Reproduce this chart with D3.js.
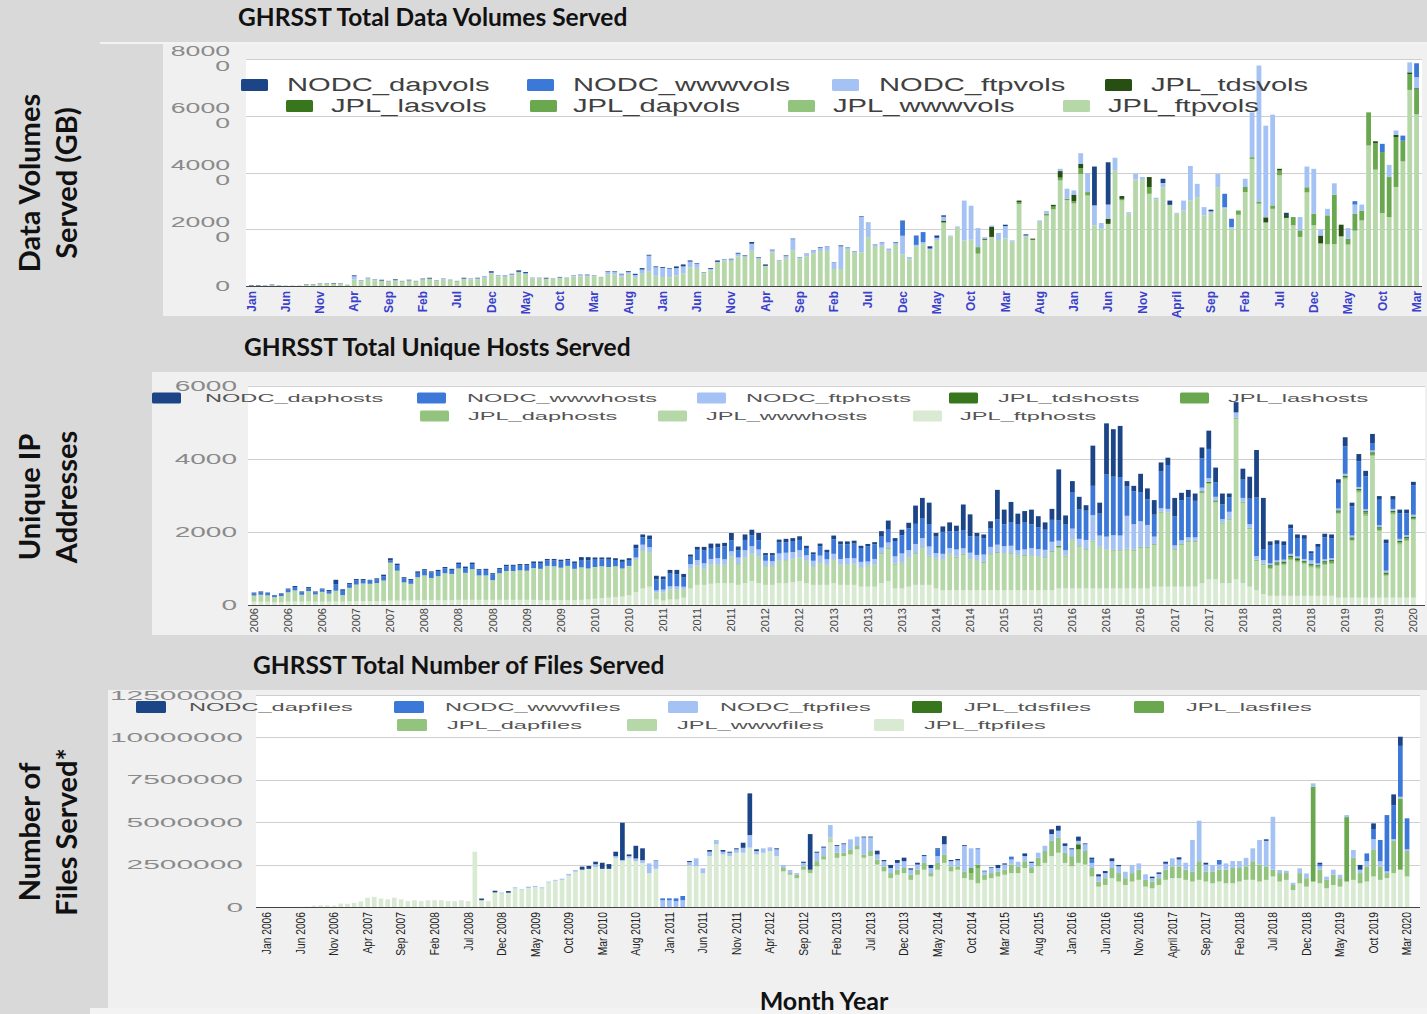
<!DOCTYPE html>
<html>
<head>
<meta charset="utf-8">
<script src="https://cdn.jsdelivr.net/npm/d3@7"></script>
<style>
  html, body { margin: 0; padding: 0; background: #d9d9d9; }
  svg { display: block; }
</style>
</head>
<body>
<svg id="fig" width="1427" height="1014"></svg>
<script>
// Monthly data Jan 2006 .. Mar 2020 (171 months)

// ---- Data volumes (thousand GB) ----
const volNodcDap = [
  .2,.2,.1,.2,.1,.05,.05,.05,.1,.1,
  .1,.1,.2,.1,.05,.3,.1,.1,.1,.3,
  .1,.3,.1,.2,.1,.2,.3,.1,.1,.1,
  .1,.3,.1,.2,.1,.5,.1,.1,.2,.5,
  .4,.1,.1,.3,.1,.2,.1,.1,.1,.2,
  .1,.05,.2,.2,.2,.3,.4,.5,.3,.3,
  .3,.2,.6,.7,.4,.2,.1,.3,.5,.1,
  .2,.3,.2,.6,.2,.5,.2,.1,.2,.2,
  .1,.1,.1,.2,.1,.1,.3,.1,.1,.2,
  .1,.1,.1,.1,.2,.1,.1,.1,0,.8,
  .8,.5,0,0,0,0,0,0,0,0,
  .5,0,0,.4,0,0,0,0,0,0,
  0,0,0,13.7,0,14.9,0,0,0,0,
  0,0,0,1.5,1.5,0,0,0,0,0,
  .6,0,0,0,0,0,0,0,0,0,
  0,.8,0,0,0,0,0,0,0,0,
  0,0,0,0,0,0,0,0,0,0,0];
const volNodcWww = [
  0,0,0,0,0,0,0,0,0,0, 0,0,0,0,0,0,0,0,0,0,
  0,0,0,0,0,0,0,0,0,0, 0,0,0,0,0,0,0,0,0,0,
  0,0,0,0,0,0,0,0,0,0, 0,0,0,0,0,0,0,0,0,0,
  0,0,0,0,0,0,0,0,0,0, 0,0,0,0,0,0,0,0,0,0,
  0,0,0,0,0,0,0,0,0,0,
  0,0,0,0,0,5.3,0,3.2,3.5,0,
  0,0,0,0,0,0,0,0,0,0, 0,0,0,0,0,0,0,0,0,0,
  0,0,0,0,0,0,0,0,0,0, 0,0,0,0,0,0,0,0,0,0,
  0,0,4.7,2.9,0,0,0,0,0,0,
  0,0,0,0,0,0,0,0,0,0,
  0,1.2,0,0,0,2.9,0,0,1.8,0,4.9];
const volNodcFtp = [
  0,0,0,0,0,0,0,0,.1,.1,
  .1,.1,.1,.1,0,1.2,.3,.3,.2,.1,
  .1,.2,0,.2,0,.2,.1,0,.3,0,
  0,.2,.2,.3,.4,.3,.3,.5,.4,.4,
  .3,.2,.1,.1,0,.2,0,.3,.5,.4,
  .2,0,1.0,.9,.8,.6,.8,1.5,5.5,3.0,
  3.2,3.0,2.6,2.5,2.0,1.5,.3,.5,.3,.4,
  .6,1.0,.4,2.5,.5,.2,.8,.3,.8,4.0,
  .5,.8,1.0,1.2,1.5,2.3,8.0,.6,.5,12.5,
  5.0,.8,1.2,.6,.8,6.5,.5,.5,.8,.4,
  .8,1.5,.3,.5,14.1,12.0,6.7,.5,.5,2.5,
  4.3,.5,0,.4,0,.5,1.0,0,.8,3.5,
  1.5,3.8,6.7,7.0,2.0,5.0,4.5,0,.5,2.0,
  1.0,0,.5,1.5,0,.3,3.5,12.2,4.7,2.9,
  .5,4.7,.5,.5,0,2.9,15.8,48.1,32.3,32.0,
  0,0,0,4.7,7.3,15.8,2.1,2.3,4.0,0,
  3.8,3.3,2.1,0,0,0,4.3,1.5,0,3.5,3.9];
const volJplTds = [
  0,0,0,0,0,0,0,0,0,0, 0,0,0,0,0,0,0,0,0,0,
  0,0,0,0,0,0,0,0,0,0, 0,0,0,0,0,0,0,0,0,0,
  0,0,0,0,0,0,0,0,0,0, 0,0,0,0,0,0,0,0,0,0,
  0,0,0,0,0,0,0,0,0,0, 0,0,0,0,0,0,0,0,0,0,
  0,0,0,0,0,0,0,0,0,0, 0,0,0,0,0,0,0,0,0,0,
  0,.5,0,0,0,0,0,.4,3.5,0,
  0,0,.6,0,.4,0,0,.6,2.3,0,
  2.3,1.5,0,0,0,1.8,0,1.0,0,0,
  0,3.5,0,0,0,0,0,0,0,0,
  0,0,0,0,0,0,0,0,1.8,0,
  .6,1.0,0,0,0,0,2.8,0,0,4.1,
  0,0,0,0,.6,0,0,.8,0,.6,.4];
const volJplLas = [
  0,0,0,0,0,0,0,0,0,0, 0,0,0,0,0,0,0,0,0,0,
  0,0,0,0,0,0,0,0,0,0, 0,0,0,0,0,0,0,0,0,0,
  0,0,0,0,0,0,0,0,0,0, 0,0,0,0,0,0,0,0,0,0,
  0,0,0,0,0,0,0,0,0,0, 0,0,0,0,0,0,0,0,0,0,
  0,0,0,0,0,0,0,0,0,0, 0,0,0,0,0,0,0,0,0,0,
  0,0,0,0,0,0,0,0,0,0, 0,0,0,0,0,0,0,0,0,0,
  0,0,0,0,0,0,0,0,0,0, 0,0,0,0,0,0,0,0,0,0,
  0,0,0,0,0,0,0,0,0,0, 0,0,0,0,0,0,0,0,0,0,
  0,0,0,0,0,0,0,0,0,0,0];
const volJplDap = [
  0,0,0,0,0,0,0,0,0,0, 0,0,0,0,0,0,0,0,0,0,
  0,0,0,0,0,0,0,0,0,0, 0,0,0,0,0,0,0,0,0,0,
  0,0,0,0,0,0,0,0,0,0, 0,0,0,0,0,0,0,0,0,0,
  0,0,0,0,0,0,0,0,0,0, 0,0,0,0,0,0,0,0,0,0,
  0,0,0,0,0,0,0,0,0,0, 0,0,0,0,0,0,0,0,0,0,
  0,0,0,0,0,0,2.3,0,0,0,
  0,0,.6,0,0,0,.6,1.0,1.0,.5,
  .8,2.0,1.2,0,0,0,0,.5,0,0,
  0,2.4,0,0,0,0,0,0,0,0,
  0,0,0,0,1.5,1.8,.6,.6,0,1.2,
  1.7,0,2.9,2.3,1.8,4.1,0,10.2,17.4,0,
  2.0,5.9,3.5,11.7,9.4,21.5,14.1,17.6,7.3,5.6,8.8];
const volJplWww = [
  0,0,0,0,0,0,0,0,0,0, 0,0,0,0,0,0,0,0,0,0,
  0,0,0,0,0,0,0,0,0,0, 0,0,0,0,0,0,0,0,0,0,
  0,0,0,0,0,0,0,0,0,0, 0,0,0,0,0,0,0,0,0,0,
  0,0,0,0,0,0,0,0,0,0, 0,0,0,0,0,0,0,0,0,0,
  0,0,0,0,0,0,0,0,0,0, 0,0,0,0,0,0,0,0,0,0,
  0,0,0,0,0,0,0,0,0,0, 0,0,0,0,0,0,0,0,0,0,
  0,0,0,0,0,0,0,0,0,0, 0,0,0,0,0,0,0,0,0,0,
  0,0,0,0,0,0,0,0,0,0, 0,0,0,0,0,0,0,0,0,0,
  0,0,0,0,0,0,0,0,0,0,0];
const volJplFtp = [
  .1,.1,.1,.3,.1,.05,.05,.05,.5,.5,
  .7,.7,.7,.8,.35,2.25,1.6,2.5,2.05,1.8,
  1.6,1.85,1.7,1.8,1.7,2.2,2.5,1.9,2.2,2.1,
  1.7,2.4,2.3,2.4,2.9,4.4,3.35,3.15,3.7,4.6,
  4.2,2.6,2.7,2.5,2.5,2.8,2.8,3.35,3.4,3.4,
  3.45,3.15,4.0,4.1,3.3,4.3,3.1,4.3,5.2,3.6,
  3.2,3.1,3.7,4.4,6.6,6.4,4.5,5.5,8.2,9.0,
  8.8,10.4,10.2,12.4,9.5,6.9,11.8,8.6,9.8,12.5,
  9.6,10.5,11.5,12.3,12.4,6.0,6.0,13.0,11.7,11.9,
  17.2,13.8,14.2,12.4,14.5,11.2,9.4,14.0,14.7,12.8,
  16.2,22.4,17.5,20.5,16.0,16.3,11.4,16.3,17.3,16.2,
  16.8,15.6,28.9,17.4,16.3,22.6,24.8,27.0,37.2,30.3,
  29.1,39.5,31.9,21.4,20.2,21.9,40.7,30.2,25.5,37.5,
  37.4,32.5,30.6,34.8,28.6,25.5,26.6,30.1,31.3,24.9,
  25.8,34.8,27.3,20.3,25.1,33.1,44.8,29.0,22.4,27.2,
  39.0,24.0,21.4,17.3,33.0,21.4,15.0,14.7,14.8,17.5,
  14.6,19.5,23.1,49.5,41.0,25.7,24.3,34.9,43.9,69.1,60.5];

// ---- Unique hosts ----
const hostNodcDap = [
  20,20,15,10,15,20,30,20,30,20,
  20,30,120,40,30,40,30,20,30,40,
  60,40,30,30,40,30,30,30,40,30,
  40,40,40,30,30,30,30,40,30,30,
  30,40,40,40,40,50,40,40,80,90,
  60,50,60,50,60,50,100,80,100,100,
  80,100,120,100,60,80,100,120,100,100,
  200,100,150,150,200,60,60,80,100,80,
  100,60,50,80,60,100,80,80,80,60,
  60,60,150,250,80,150,150,500,550,600,
  100,150,250,150,700,600,100,100,200,800,
  400,550,300,300,400,300,200,300,1400,250,
  300,350,150,1100,300,1400,1300,1400,150,150,
  500,300,400,250,200,500,200,200,200,300,
  500,400,300,100,280,300,600,1300,1400,100,
  100,100,100,100,100,50,80,100,100,100,
  250,100,200,150,250,100,100,100,100,100,100];
const hostNodcWww = [
  60,70,60,50,60,80,90,70,80,60,
  70,70,180,120,100,110,90,90,100,120,
  60,150,110,100,120,140,150,140,130,110,
  120,130,140,140,150,160,110,130,140,140,
  150,140,160,150,160,170,150,160,200,220,
  200,190,200,170,180,160,250,200,220,300,
  280,350,330,250,200,280,350,300,300,350,
  300,200,280,300,250,150,160,300,280,300,
  280,200,180,250,200,400,400,380,400,380,
  420,400,300,350,420,500,600,550,550,600,
  450,600,450,500,500,450,500,450,500,700,
  600,650,700,750,650,600,550,600,550,700,
  1000,800,800,800,600,1700,1600,1600,800,900,
  800,700,600,1000,1200,800,1100,1100,1000,800,
  800,400,400,400,0,500,700,1600,300,500,
  450,400,700,500,550,200,450,600,550,700,
  750,800,700,900,200,700,750,250,700,600,800];
const hostNodcFtp = [
  0,0,0,0,0,0,0,0,0,0, 0,0,0,0,0,0,0,0,0,0,
  0,0,0,0,0,0,0,0,0,0, 0,0,0,0,0,0,0,0,0,0,
  0,0,0,0,0,0,0,0,0,0,
  0,0,0,0,0,0,50,150,150,50,
  80,80,90,60,120,150,150,150,180,150,
  150,180,200,200,200,150,130,200,200,180,
  200,150,150,180,150,150,150,180,150,150,
  120,150,150,150,200,250,200,250,250,250,
  150,150,150,200,150,150,150,200,200,200,
  200,200,150,150,200,200,200,250,150,150,
  300,200,250,700,300,350,400,400,900,700,
  700,600,200,100,100,100,100,100,100,100,
  100,100,100,200,150,100,100,100,100,50,
  50,50,50,50,50,100,50,50,50,50,
  50,50,50,50,50,50,50,50,50,50,50];
const hostJplTds = [
  0,0,0,0,0,0,0,0,0,0, 0,0,0,0,0,0,0,0,0,0,
  0,0,0,0,0,0,0,0,0,0, 0,0,0,0,0,0,0,0,0,0,
  0,0,0,0,0,0,0,0,0,0, 0,0,0,0,0,0,0,0,0,0,
  0,0,0,0,0,0,0,0,0,0, 0,0,0,0,0,0,0,0,0,0,
  0,0,0,0,0,0,0,0,0,0, 0,0,0,0,0,0,0,0,0,0,
  0,0,0,0,0,0,0,0,0,0,
  0,0,0,0,0,0,0,0,30,0,
  0,0,0,0,0,0,0,0,0,0,
  0,0,0,0,0,0,0,0,0,30,
  30,30,0,0,0,0,0,0,0,40,
  40,40,50,50,30,30,30,40,40,40,
  40,40,40,40,40,40,40,40,40,40,40];
const hostJplLas = [
  0,0,0,0,0,0,0,0,0,0, 0,0,0,0,0,0,0,0,0,0,
  0,0,0,0,0,0,0,0,0,0, 0,0,0,0,0,0,0,0,0,0,
  0,0,0,0,0,0,0,0,0,0, 0,0,0,0,0,0,0,0,0,0,
  0,0,0,0,0,0,0,0,0,0, 0,0,0,0,0,0,0,0,0,0,
  0,0,0,0,0,0,0,0,0,0, 0,0,0,0,0,0,0,0,0,0,
  0,0,0,0,0,0,0,0,0,0, 0,0,0,0,0,0,0,0,0,0,
  0,0,0,0,0,0,0,0,0,0, 0,0,0,0,0,0,0,0,0,0,
  0,0,0,0,0,0,0,0,0,40,
  40,40,40,40,40,40,40,40,40,40,
  40,40,40,40,40,40,40,40,40,40,40];
const hostJplDap = [
  10,10,10,10,10,10,10,10,10,10,
  10,10,10,10,10,10,10,10,10,10,
  20,20,10,10,10,10,10,10,10,10,
  10,10,10,10,10,10,10,10,10,10,
  10,10,10,10,10,10,10,10,10,10,
  10,10,10,10,10,10,20,20,20,10,
  10,10,10,10,20,20,20,20,20,20,
  20,20,20,20,20,20,20,20,20,20,
  20,20,20,20,20,20,20,20,20,20,
  20,20,30,30,30,30,30,30,30,30,
  30,30,30,30,30,30,30,30,30,30,
  30,30,30,30,30,30,30,30,30,30,
  30,30,30,30,30,30,30,30,30,30,
  30,30,30,30,30,30,30,30,30,30,
  30,30,30,30,40,40,40,40,40,30,
  30,30,30,30,30,30,30,30,30,30,
  30,30,30,60,30,30,30,30,30,30,30];
const hostJplWww = [
  160,180,165,125,155,250,290,180,270,190,
  260,210,280,170,360,440,470,460,480,550,
  1020,800,490,450,620,670,600,650,730,710,
  850,730,830,660,660,530,720,780,780,800,
  790,860,850,930,920,880,930,850,880,840,
  860,860,830,830,760,800,880,1030,910,190,
  210,270,260,230,530,510,420,510,480,480,
  700,550,680,740,700,490,500,590,610,630,
  630,590,490,600,530,630,540,530,560,510,
  550,590,790,880,650,680,770,840,1000,770,
  790,820,980,890,970,850,790,750,960,1020,
  980,990,920,940,930,900,880,1050,1100,870,
  1310,1130,1050,1280,1120,1040,1030,1020,1060,1030,
  1110,1110,1140,2020,2000,1000,1140,1220,1220,2450,
  2610,2100,1620,1720,4380,2190,1570,800,790,730,
  810,830,980,910,860,770,740,840,870,2280,
  3230,1540,2870,2230,3870,1820,580,2270,1450,1550,2110];
const hostJplFtp = [
  90,90,90,80,80,90,100,90,100,90,
  90,90,100,90,100,110,110,110,110,110,
  120,120,120,120,130,130,130,130,130,130,
  140,140,140,140,140,140,140,140,140,140,
  140,140,130,130,130,130,130,130,140,150,
  170,190,200,220,230,260,350,450,500,150,
  120,150,150,200,450,550,550,580,600,600,
  600,550,600,650,600,550,550,600,600,620,
  650,600,550,550,550,600,550,550,550,500,
  500,500,600,650,450,450,500,550,550,550,
  450,400,400,400,400,400,400,400,400,400,
  400,400,400,400,400,400,400,400,450,450,
  450,450,450,450,450,450,450,450,450,450,
  450,450,500,500,500,500,500,500,500,600,
  700,700,600,600,700,600,500,400,300,250,
  250,250,250,250,250,250,250,250,250,200,
  200,200,200,200,200,200,200,200,200,200,200];

// ---- Files served (millions) ----
const fileNodcDap = [
  0,0,0,0,0,0,0,0,0,0, 0,0,0,0,0,0,0,0,0,0,
  0,0,0,0,0,0,0,0,0,0,
  0,0,.1,0,.1,0,.1,0,0,0,
  0,0,0,0,0,0,0,.18,.17,.15,
  .36,.28,.26,2.2,.1,.75,.7,0,.02,0,
  0,0,0,.06,0,0,.1,0,.1,.06,
  .06,.3,2.46,.1,0,0,.06,0,0,0,
  .07,2.1,.06,.06,0,.05,.05,0,0,.05,
  .05,.22,.07,.18,.17,.21,.08,.11,.06,.18,
  .06,.48,.07,.08,.05,0,0,.04,.04,.18,
  .07,0,0,.16,.07,0,0,.28,.29,.15,
  .06,.25,.05,.11,.13,.12,.17,.08,0,0,
  0,0,.09,.09,.12,0,.13,0,0,0,
  .11,0,0,0,0,0,0,0,0,.09,
  0,0,0,0,0,0,0,.11,0,0,
  0,0,0,.28,0,.33,0,0,.64,.54,0];
const fileNodcWww = [
  0,0,0,0,0,0,0,0,0,0, 0,0,0,0,0,0,0,0,0,0,
  0,0,0,0,0,0,0,0,0,0, 0,0,0,0,0,0,0,0,0,0,
  0,0,0,0,0,0,0,0,0,0,
  0,0,0,0,0,0,0,0,0,.11,
  .11,.16,.25,0,0,0,0,0,0,0,
  0,0,0,0,0,0,0,0,0,0, 0,0,0,0,0,0,0,0,0,0,
  0,0,0,0,0,0,0,0,0,0,
  .4,0,0,0,0,0,.06,0,0,0,
  0,.17,0,0,0,0,0,0,0,0,
  0,0,0,.2,0,0,0,0,0,0,
  0,0,0,0,0,0,0,0,0,0,
  0,0,.27,0,0,0,0,0,0,0,
  0,0,0,0,0,0,0,.1,0,0,
  0,0,0,0,.46,.6,1.25,3.32,2.0,3.0,1.83];
const fileNodcFtp = [
  0,0,0,0,0,0,0,0,0,0, 0,0,0,0,0,0,0,0,0,0,
  0,0,0,0,0,0,0,0,0,0,
  0,0,0,0,0,.05,0,.06,.04,.08,
  .06,.06,.05,.05,.07,.1,.1,0,0,.17,
  0,0,.1,.07,.1,.16,.16,.57,.5,.4,
  .4,.35,.4,.2,.47,.28,.26,.25,.16,.2,
  .2,.29,.74,.2,.26,.22,.4,.18,.18,.1,
  .2,0,.5,.5,.73,.4,.5,.59,.55,1.0,
  .8,.3,.3,.3,.4,.4,.3,.3,.4,.3,
  .4,.6,.3,.35,1.5,1.16,.9,.2,.3,.2,
  .3,.3,.27,.3,.3,.3,.31,.4,.4,.4,
  .4,.2,.4,.3,.3,.3,.4,.4,.38,.48,
  .37,.33,.2,.25,.35,.47,.4,.41,1.85,2.39,
  .4,.38,.3,.37,.41,.41,.5,.76,1.45,1.5,
  3.12,.18,.14,.13,.28,.28,.19,.2,.19,.3,
  .2,.12,.46,.2,.3,.6,.3,.1,.1,.1,.1];
const fileJplTds = [
  0,0,0,0,0,0,0,0,0,0, 0,0,0,0,0,0,0,0,0,0,
  0,0,0,0,0,0,0,0,0,0, 0,0,0,0,0,0,0,0,0,0,
  0,0,0,0,0,0,0,0,0,0, 0,0,0,0,0,0,0,0,0,0,
  0,0,0,0,0,0,0,0,0,0, 0,0,0,0,0,0,0,0,0,0,
  0,0,0,0,0,0,0,0,0,0, 0,0,0,0,0,0,0,0,0,0,
  0,0,0,0,0,0,0,0,0,0, 0,0,0,0,0,0,0,0,0,0,
  0,.3,0,0,0,0,0,0,0,0,
  0,0,0,0,0,0,0,0,0,0, 0,0,0,0,0,0,0,0,0,0,
  0,0,0,0,0,0,0,0,0,0,
  0,0,0,0,0,0,0,0,0,0,0];
const fileJplLas = [
  0,0,0,0,0,0,0,0,0,0, 0,0,0,0,0,0,0,0,0,0,
  0,0,0,0,0,0,0,0,0,0, 0,0,0,0,0,0,0,0,0,0,
  0,0,0,0,0,0,0,0,0,0, 0,0,0,0,0,0,0,0,0,0,
  0,0,0,0,0,0,0,0,0,0, 0,0,0,0,0,0,0,0,0,0,
  0,0,0,0,0,0,0,0,0,0, 0,0,0,0,0,0,0,0,0,0,
  0,0,0,0,0,.3,.2,0,0,0,
  0,0,0,0,0,0,0,0,0,0, 0,0,0,0,0,0,0,0,0,0,
  0,0,0,0,0,0,0,0,0,0, 0,0,0,0,0,0,0,0,0,0,
  0,0,0,0,0,0,5.6,0,0,0,
  0,3.8,0,0,0,0,0,0,0,4.2,0];
const fileJplDap = [
  0,0,0,0,0,0,0,0,0,0, 0,0,0,0,0,0,0,0,0,0,
  0,0,0,0,0,0,0,0,0,0, 0,0,0,0,0,0,0,0,0,0,
  0,0,0,0,0,0,0,0,0,0, 0,0,0,0,0,0,0,0,0,0,
  0,0,0,0,0,0,0,0,0,0,
  0,0,0,0,0,0,0,.2,.1,.2,
  .2,.2,.3,.2,0,.3,.2,.3,.2,.2,
  .3,.3,.3,.3,.3,.3,.3,.3,.4,.2,
  .4,.5,.3,.2,.4,.4,.9,.3,.3,.3,
  .3,.5,.4,.4,.3,.5,.7,.9,.9,.6,
  .6,.8,.8,.5,.3,.4,.6,.5,.4,.5,
  .6,.4,.4,.4,.6,.7,.7,.6,.6,1.1,
  .6,.7,.7,.8,.9,.8,.8,1.1,1.0,.8,
  .4,.5,.4,.3,.6,.5,0,.8,.5,.6,
  .5,0,1.3,.6,.9,1.6,.8,.3,1.9,0,1.5];
const fileJplWww = [
  0,0,0,0,0,0,0,0,0,0, 0,0,0,0,0,0,0,0,0,0,
  0,0,0,0,0,0,0,0,0,0, 0,0,0,0,0,0,0,0,0,0,
  0,0,0,0,0,0,0,0,0,0, 0,0,0,0,0,0,0,0,0,0,
  0,0,0,0,0,0,0,0,0,0, 0,0,0,0,0,0,0,0,0,0,
  0,0,0,0,.3,0,0,0,0,0,
  0,0,0,0,0,0,0,0,0,0, 0,0,0,0,0,0,0,0,0,0,
  0,0,0,0,0,0,0,0,0,0, 0,0,0,0,0,0,0,0,0,0,
  0,0,0,0,0,0,0,0,0,0, 0,0,0,0,0,0,0,0,0,0,
  0,0,0,0,0,0,0,0,0,0,
  0,0,0,0,0,0,0,0,0,0,0];
const fileJplFtp = [
  0,0,0,0,0,.01,.02,.08,.1,.1,
  .08,.2,.19,.25,.33,.55,.6,.5,.45,.55,
  .45,.35,.4,.35,.4,.4,.4,.35,.35,.4,
  .35,3.26,.4,.35,.86,.8,.84,1.1,1.0,1.12,
  1.18,1.1,1.45,1.55,1.6,1.85,2.08,2.2,2.25,2.35,
  2.25,2.25,2.9,2.7,2.9,2.7,2.6,2.0,2.25,0,
  0,0,0,2.45,2.4,2.0,3.0,3.7,3.1,3.0,
  3.2,3.2,3.5,3.1,3.2,3.3,3.0,2.1,1.9,1.7,
  2.2,2.0,2.4,2.8,3.8,2.9,3.0,3.1,3.4,2.9,
  3.0,2.5,2.1,1.7,1.9,2.0,1.6,1.9,2.2,1.8,
  2.2,2.6,2.1,2.2,1.7,1.6,1.4,1.6,1.7,1.8,
  1.9,2.0,2.0,2.3,2.0,2.4,2.6,3.0,3.2,2.6,
  2.4,2.6,2.5,1.8,1.2,1.3,1.7,1.5,1.3,1.5,
  1.6,1.2,1.1,1.3,1.6,1.7,1.7,1.6,1.5,1.6,
  1.5,1.4,1.5,1.4,1.4,1.5,1.6,1.6,1.5,1.6,
  1.8,1.5,1.6,1.0,1.4,1.2,1.5,1.4,1.1,1.3,
  1.2,1.5,1.6,1.4,1.5,1.8,1.6,1.7,2.0,2.2,1.8];

// ---- Labels ----
const volTickLabels = ["Jan","Jun","Nov","Apr","Sep","Feb","Jul","Dec","May","Oct","Mar","Aug",
  "Jan","Jun","Nov","Apr","Sep","Feb","Jul","Dec","May","Oct","Mar","Aug",
  "Jan","Jun","Nov","April","Sep","Feb","Jul","Dec","May","Oct","Mar"];
const hostTickLabels = ["2006","2006","2006","2007","2007","2008","2008","2008","2009","2009",
  "2010","2010","2011","2011","2011","2012","2012","2013","2013","2013","2014","2014",
  "2015","2015","2016","2016","2016","2017","2017","2018","2018","2018","2019","2019","2020"];
const fileTickLabels = ["Jan 2006","Jun 2006","Nov 2006","Apr 2007","Sep 2007","Feb 2008",
  "Jul 2008","Dec 2008","May 2009","Oct 2009","Mar 2010","Aug 2010","Jan 2011","Jun 2011",
  "Nov 2011","Apr 2012","Sep 2012","Feb 2013","Jul 2013","Dec 2013","May 2014","Oct 2014",
  "Mar 2015","Aug 2015","Jan 2016","Jun 2016","Nov 2016","April 2017","Sep 2017","Feb 2018",
  "Jul 2018","Dec 2018","May 2019","Oct 2019","Mar 2020"];

const volNames  = ["NODC_dapvols","NODC_wwwvols","NODC_ftpvols","JPL_tdsvols","JPL_lasvols","JPL_dapvols","JPL_wwwvols","JPL_ftpvols"];
const hostNames = ["NODC_daphosts","NODC_wwwhosts","NODC_ftphosts","JPL_tdshosts","JPL_lashosts","JPL_daphosts","JPL_wwwhosts","JPL_ftphosts"];
const fileNames = ["NODC_dapfiles","NODC_wwwfiles","NODC_ftpfiles","JPL_tdsfiles","JPL_lasfiles","JPL_dapfiles","JPL_wwwfiles","JPL_ftpfiles"];

// ---- Drawing ----
const SERIES = ["NODC_dap","NODC_www","NODC_ftp","JPL_tds","JPL_las","JPL_dap","JPL_www","JPL_ftp"];
const STACK_ORDER = SERIES.slice().reverse();
const FONT = "'Liberation Sans', Arial, sans-serif";
const TITLE_FONT = "Lato, 'Open Sans', sans-serif";

const monthKeys = [];
for (let i = 0; i < 171; i++) {
  const yr = 2006 + Math.floor(i / 12), mo = i % 12 + 1;
  monthKeys.push(yr + "-" + String(mo).padStart(2, "0"));
}
const tickMonths = monthKeys.filter((m, i) => i % 5 === 0);

const paletteVol = {NODC_dap:"#1c4587", NODC_www:"#3c78d8", NODC_ftp:"#a4c2f4", JPL_tds:"#274e13",
  JPL_las:"#38761d", JPL_dap:"#6aa84f", JPL_www:"#93c47d", JPL_ftp:"#b6d7a8"};
const paletteHost = {NODC_dap:"#1c4587", NODC_www:"#3c78d8", NODC_ftp:"#a4c2f4", JPL_tds:"#38761d",
  JPL_las:"#6aa84f", JPL_dap:"#93c47d", JPL_www:"#b6d7a8", JPL_ftp:"#d9ead3"};

const charts = [
  {
    title: "GHRSST Total Data Volumes Served", titlePos: [238, 26],
    side: ["Data Volumes", "Served (GB)"], sideY: 183,
    panel: [163, 44, 1264, 272], plot: {l: 246, r: 1422, t: 59, b: 286}, band: [248, 1420],
    yMax: 80, yTicks: [0, 20, 40, 60, 80], unit: 1000, wrap: 4,
    yLabelX: 230, yFont: 14, yStretch: 1.9, yColor: "#8a8a8a",
    xFont: 12, xWeight: 700, xColor: "#3a40cc", xPad: 5, xCondense: 1, labels: volTickLabels,
    names: volNames, colors: paletteVol,
    legendFont: 18, legendStretch: 1.62, legendColor: "#404040", swatch: [27, 12], legendRows: [85, 106],
    legendPos: [[241,287,0],[527,573,0],[832,879,0],[1105,1151,0],[286,331,1],[530,573,1],[788,833,1],[1063,1108,1]],
    series: {NODC_dap: volNodcDap, NODC_www: volNodcWww, NODC_ftp: volNodcFtp, JPL_tds: volJplTds,
             JPL_las: volJplLas, JPL_dap: volJplDap, JPL_www: volJplWww, JPL_ftp: volJplFtp}
  },
  {
    title: "GHRSST Total Unique Hosts Served", titlePos: [244, 356],
    side: ["Unique IP", "Addresses"], sideY: 497,
    panel: [152, 372, 1275, 263], plot: {l: 248, r: 1425, t: 385.7, b: 605}, band: [250.6, 1416.8],
    yMax: 6000, yTicks: [0, 2000, 4000, 6000], unit: 1, wrap: 0,
    yLabelX: 237, yFont: 14, yStretch: 2.0, yColor: "#8a8a8a",
    xFont: 11, xWeight: 400, xColor: "#444", xPad: 3, xCondense: 1, labels: hostTickLabels,
    names: hostNames, colors: paletteHost,
    legendFont: 11.5, legendStretch: 2.05, legendColor: "#555", swatch: [29, 11], legendRows: [398, 416],
    legendPos: [[152,205,0],[417,467,0],[697,746,0],[949,998,0],[1180,1228,0],[420,468,1],[658,706,1],[913,960,1]],
    series: {NODC_dap: hostNodcDap, NODC_www: hostNodcWww, NODC_ftp: hostNodcFtp, JPL_tds: hostJplTds,
             JPL_las: hostJplLas, JPL_dap: hostJplDap, JPL_www: hostJplWww, JPL_ftp: hostJplFtp}
  },
  {
    title: "GHRSST Total Number of Files Served", titlePos: [253, 674],
    side: ["Number of", "Files Served*"], sideY: 832,
    panel: [108, 690, 1319, 318], plot: {l: 256, r: 1420, t: 695, b: 907}, band: [263.6, 1410.4],
    yMax: 12.5, yTicks: [0, 2.5, 5, 7.5, 10, 12.5], unit: 1e6, wrap: 0,
    yLabelX: 243, yFont: 13, yStretch: 2.3, yColor: "#8a8a8a",
    xFont: 12.5, xWeight: 400, xColor: "#222", xPad: 5, xCondense: 0.82, labels: fileTickLabels,
    names: fileNames, colors: paletteHost,
    legendFont: 11.5, legendStretch: 2.05, legendColor: "#555", swatch: [30, 12], legendRows: [707, 725],
    legendPos: [[136,189,0],[394,445,0],[668,720,0],[912,964,0],[1134,1186,0],[397,447,1],[627,677,1],[874,924,1]],
    series: {NODC_dap: fileNodcDap, NODC_www: fileNodcWww, NODC_ftp: fileNodcFtp, JPL_tds: fileJplTds,
             JPL_las: fileJplLas, JPL_dap: fileJplDap, JPL_www: fileJplWww, JPL_ftp: fileJplFtp}
  }
];

function stretchText(sel, k) {
  sel.each(function () {
    const w = this.getComputedTextLength();
    if (w > 0) {
      d3.select(this).attr("textLength", (w * k).toFixed(1)).attr("lengthAdjust", "spacingAndGlyphs");
    }
  });
}

function drawChart(svg, c) {
  const g = svg.append("g");

  g.append("rect").attr("x", c.panel[0]).attr("y", c.panel[1])
    .attr("width", c.panel[2]).attr("height", c.panel[3]).attr("fill", "#f0f0f0");
  g.append("rect").attr("x", c.plot.l).attr("y", c.plot.t)
    .attr("width", c.plot.r - c.plot.l).attr("height", c.plot.b - c.plot.t).attr("fill", "#fff");

  const x = d3.scaleBand().domain(monthKeys).range(c.band).paddingInner(0.3).paddingOuter(0.15);
  const y = d3.scaleLinear().domain([0, c.yMax]).range([c.plot.b, c.plot.t]);

  // gridlines
  g.append("g").selectAll("line").data(c.yTicks.slice(1)).join("line")
    .attr("x1", c.plot.l).attr("x2", c.plot.r)
    .attr("y1", d => Math.round(y(d)) + 0.5).attr("y2", d => Math.round(y(d)) + 0.5)
    .attr("stroke", "#cfcfcf");

  // stacked bars
  const rows = monthKeys.map((m, i) => {
    const r = {month: m};
    SERIES.forEach(k => { r[k] = c.series[k][i]; });
    return r;
  });
  const layers = d3.stack().keys(STACK_ORDER)(rows);
  g.append("g").selectAll("g").data(layers).join("g")
    .attr("fill", d => c.colors[d.key])
    .selectAll("rect").data(d => d).join("rect")
    .attr("x", d => x(d.data.month))
    .attr("width", x.bandwidth())
    .attr("y", d => y(d[1]))
    .attr("height", d => Math.max(0, y(d[0]) - y(d[1])));

  // baseline
  g.append("line").attr("x1", c.plot.l).attr("x2", c.plot.r)
    .attr("y1", c.plot.b + 0.5).attr("y2", c.plot.b + 0.5).attr("stroke", "#444");

  // y axis
  const ya = g.append("g").attr("transform", `translate(${c.yLabelX},0)`)
    .call(d3.axisLeft(y).tickValues(c.yTicks)
      .tickFormat(d => String(Math.round(d * c.unit))).tickSize(0).tickPadding(0));
  ya.select(".domain").remove();
  ya.attr("font-family", FONT).attr("font-size", c.yFont);
  ya.selectAll(".tick text").attr("fill", c.yColor).attr("x", 0).each(function () {
    const s = this.textContent;
    if (c.wrap && s.length > c.wrap) {
      d3.select(this).text(s.slice(0, c.wrap)).attr("y", -7.5);
      d3.select(this.parentNode).append("text")
        .attr("fill", c.yColor).attr("x", 0).attr("y", 7.5).attr("dy", "0.32em")
        .text(s.slice(c.wrap));
    }
  });
  stretchText(ya.selectAll(".tick text"), c.yStretch);

  // x axis
  const xa = g.append("g").attr("transform", `translate(0,${c.plot.b})`)
    .call(d3.axisBottom(x).tickValues(tickMonths)
      .tickFormat((d, i) => c.labels[i]).tickSize(0).tickPadding(0));
  xa.select(".domain").remove();
  xa.attr("font-family", FONT).attr("font-size", c.xFont).attr("font-weight", c.xWeight);
  xa.selectAll(".tick text")
    .attr("fill", c.xColor)
    .attr("transform", `rotate(-90) scale(${c.xCondense},1)`)
    .attr("text-anchor", "end")
    .attr("x", -c.xPad / c.xCondense)
    .attr("y", 0)
    .attr("dy", "0.35em");

  // legend
  const lg = g.append("g").attr("font-family", FONT).attr("font-size", c.legendFont);
  SERIES.forEach((key, j) => {
    const [sx, tx, row] = c.legendPos[j];
    const ry = c.legendRows[row];
    lg.append("rect").attr("x", sx).attr("y", ry - c.swatch[1] / 2)
      .attr("width", c.swatch[0]).attr("height", c.swatch[1]).attr("rx", 1.5)
      .attr("fill", c.colors[key]);
    lg.append("text").attr("x", tx).attr("y", ry).attr("dy", "0.35em")
      .attr("fill", c.legendColor).text(c.names[j]);
  });
  stretchText(lg.selectAll("text"), c.legendStretch);

  // titles
  svg.append("text").attr("x", c.titlePos[0]).attr("y", c.titlePos[1])
    .attr("font-family", TITLE_FONT).attr("font-weight", 700).attr("font-size", 24.5)
    .attr("fill", "#111").text(c.title);
  c.side.forEach((line, k) => {
    svg.append("text")
      .attr("transform", `translate(${[40, 77][k]},${c.sideY}) rotate(-90)`)
      .attr("text-anchor", "middle")
      .attr("font-family", TITLE_FONT).attr("font-weight", 700).attr("font-size", 29)
      .attr("fill", "#111").text(line);
  });
}

const svg = d3.select("#fig");
svg.append("rect").attr("width", 1427).attr("height", 1014).attr("fill", "#d9d9d9");
svg.append("rect").attr("x", 100).attr("y", 42).attr("width", 1327).attr("height", 2).attr("fill", "#f3f3f3");
svg.append("rect").attr("x", 90).attr("y", 1008).attr("width", 1337).attr("height", 6).attr("fill", "#f3f3f3");

charts.forEach(c => drawChart(svg, c));

svg.append("text").attr("x", 824).attr("y", 1010).attr("text-anchor", "middle")
  .attr("font-family", TITLE_FONT).attr("font-weight", 700).attr("font-size", 25)
  .attr("fill", "#111").text("Month Year");
</script>
</body>
</html>
